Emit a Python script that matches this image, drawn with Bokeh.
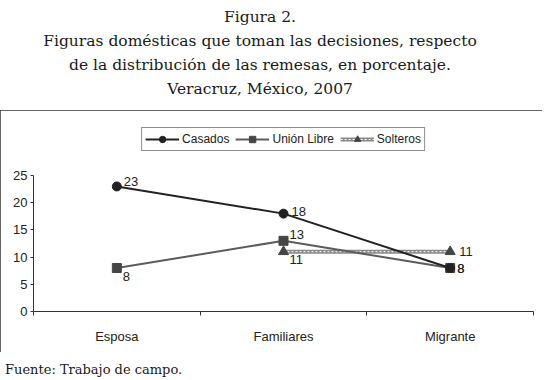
from bokeh.plotting import figure
from bokeh.models import (FixedTicker, Legend, LegendItem, Label, Div, Range1d,
                          ColumnDataSource)
from bokeh.layouts import column
from bokeh.embed import file_html
from bokeh.resources import INLINE
from bokeh.core.properties import value

# ---- data ----
categories = ["Esposa", "Familiares", "Migrante"]
casados = [23, 18, 8]
union_libre = [8, 13, 8]
solteros = [None, 11, 11]
y_ticks = [0, 5, 10, 15, 20, 25]

title_lines = ["Figura 2.",
               "Figuras domésticas que toman las decisiones, respecto",
               "de la distribución de las remesas, en porcentaje.",
               "Veracruz, México, 2007"]
source_note = "Fuente: Trabajo de campo."

SANS = "Liberation Sans"
SERIF = "DejaVu Serif"

xs = [i + 0.5 for i in range(len(categories))]
sol_x = [x for x, v in zip(xs, solteros) if v is not None]
sol_y = [v for v in solteros if v is not None]

p = figure(width=542, height=242, x_range=Range1d(0, 3), y_range=Range1d(0, 36.6),
           output_backend="svg", toolbar_location=None,
           min_border_left=33, min_border_right=9, min_border_top=2, min_border_bottom=41)
p.outline_line_color = None
p.grid.visible = False
p.styles = {"outline": "1px solid #333", "outline-offset": "-1px"}

# x axis: labels at centers, ticks at boundaries
xa = p.xaxis[0]
xa.ticker = FixedTicker(ticks=xs, minor_ticks=[0, 1, 2, 3])
xa.major_label_overrides = {x: c for x, c in zip(xs, categories)}
xa.major_tick_line_color = None
xa.major_tick_out = 0
xa.major_tick_in = 0
xa.minor_tick_in = 0
xa.minor_tick_out = 4
xa.minor_tick_line_color = "#333"
xa.axis_line_color = "#333"
xa.major_label_standoff = 13
xa.major_label_text_font = SANS
xa.major_label_text_font_size = "13px"
xa.major_label_text_color = "#222"

ya = p.yaxis[0]
ya.ticker = FixedTicker(ticks=y_ticks)
ya.bounds = (0, 25)
ya.minor_tick_line_color = None
ya.major_tick_in = 0
ya.major_tick_out = 3
ya.major_tick_line_color = "#333"
ya.axis_line_color = "#333"
ya.major_label_standoff = 3
ya.major_label_text_font = SANS
ya.major_label_text_font_size = "13px"
ya.major_label_text_color = "#222"

# Solteros (textured thick line)
r3a = p.line(sol_x, sol_y, line_color="#8a8a8a", line_width=4)
r3b = p.line(sol_x, sol_y, line_color="white", line_width=1, line_dash="2 2")
r3m = p.scatter(sol_x, sol_y, marker="triangle", size=10, color="#444")

# Unión Libre
r2 = p.line(xs, union_libre, line_color="#5c5c5c", line_width=2)
r2m = p.scatter(xs, union_libre, marker="square", size=9, color="#454545")

# Casados
r1 = p.line(xs, casados, line_color="#222", line_width=2)
r1m = p.scatter(xs, casados, marker="circle", size=9, color="#222")

# data labels
lab_x = xs + xs + sol_x
lab_y = casados + union_libre + sol_y
lab_t = [str(v) for v in lab_y]
lab_dx = [7, 8, 7, 6, 6, 7, 6, 9]
lab_dy = [-5, -2, 0, 8, -6, 0, 8, 0]
src = ColumnDataSource(dict(x=lab_x, y=lab_y, t=lab_t, dx=lab_dx, dy=lab_dy))
p.text(x="x", y="y", text="t", x_offset="dx", y_offset="dy", source=src,
       text_font=value(SANS), text_font_size="13px", text_color="#222",
       text_align="left", text_baseline="middle")

p.add_layout(Label(x=-0.05, y=-4.8, text="%", text_font=SANS, text_font_size="13px",
                   text_color="#222", text_align="center", text_baseline="middle"))

legend = Legend(items=[LegendItem(label="Casados", renderers=[r1, r1m]),
                       LegendItem(label="Unión Libre", renderers=[r2, r2m]),
                       LegendItem(label="Solteros", renderers=[r3a, r3b, r3m])],
                orientation="horizontal", location="top_center",
                border_line_color="#222", border_line_width=1,
                label_text_font=SANS, label_text_font_size="12px", label_text_color="#222",
                glyph_width=34, glyph_height=16, label_standoff=3, spacing=6,
                padding=3, margin=15, background_fill_color="white")
p.add_layout(legend)

title = Div(text="<br>".join(title_lines), width=510, height=96,
            styles={"font-family": SERIF, "font-size": "15.5px", "line-height": "24px",
                    "text-align": "center", "color": "#1a1a1a", "width": "510px"})
foot = Div(text=source_note, width=300, height=18,
           styles={"font-family": SERIF, "font-size": "13px", "line-height": "18px",
                   "color": "#1a1a1a"})

layout = column(title, p, foot, spacing=4)
open("out.html", "w").write(file_html(layout, INLINE))
